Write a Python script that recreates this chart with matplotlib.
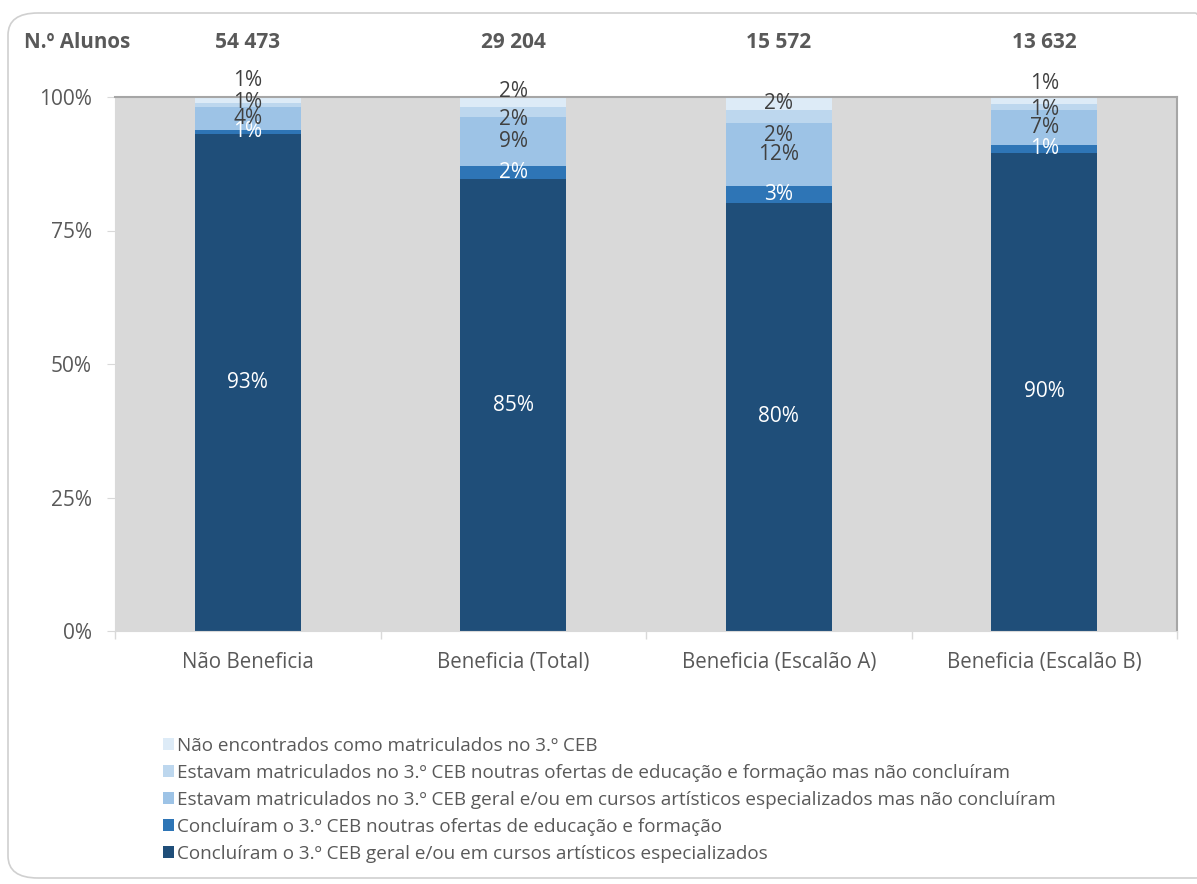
import numpy as np
import matplotlib.pyplot as plt
from matplotlib.patches import FancyBboxPatch, Patch
import matplotlib.transforms as mtransforms

plt.rcParams['font.family'] = ['Open Sans', 'DejaVu Sans']

categories = ['Não Beneficia', 'Beneficia (Total)', 'Beneficia (Escalão A)', 'Beneficia (Escalão B)']
n_alunos = ['54 473', '29 204', '15 572', '13 632']

# percentages per segment, bottom to top
concl_geral = [93.1, 84.6, 80.2, 89.6]
concl_outras = [0.8, 2.4, 3.1, 1.4]
matric_geral = [4.2, 9.3, 11.9, 6.6]
matric_outras = [0.8, 1.8, 2.4, 1.0]
nao_encontrados = [1.1, 1.9, 2.4, 1.4]

series_names = [
    'Concluíram o 3.º CEB geral e/ou em cursos artísticos especializados',
    'Concluíram o 3.º CEB noutras ofertas de educação e formação',
    'Estavam matriculados no 3.º CEB geral e/ou em cursos artísticos especializados mas não concluíram',
    'Estavam matriculados no 3.º CEB noutras ofertas de educação e formação mas não concluíram',
    'Não encontrados como matriculados no 3.º CEB',
]
series = [concl_geral, concl_outras, matric_geral, matric_outras, nao_encontrados]
colors = ['#1F4E79', '#2E75B6', '#9DC3E6', '#BDD7EE', '#DDEBF7']
label_colors = ['white', 'white', '#404040', '#404040', '#404040']
# manual nudges of labels (in % units), as in the original chart
nudges = [
    [0, 0, 0, 0],
    [0, 0, 0, 0],
    [0, 0, 0, 0],
    [0.4, -1.5, -3.7, -0.4],
    [3.6, 2.0, 0, 3.2],
]

W, H = 1197, 884
fig = plt.figure(figsize=(W / 100, H / 100), dpi=100)

# rounded outer frame
frame = FancyBboxPatch((8 / W, 6 / H), (W + 20) / W, (H - 19) / H,
                       boxstyle='round,pad=0,rounding_size=0.025',
                       transform=fig.transFigure, facecolor='none',
                       edgecolor='#D0D0D0', linewidth=1.2, zorder=-5)
fig.patches.append(frame)

left, right, top, bottom = 115, 1177, 97, 631
ax = fig.add_axes([left / W, 1 - bottom / H, (right - left) / W, (bottom - top) / H])
ax.set_facecolor('#D9D9D9')

x = np.arange(len(categories))
base = np.zeros(len(categories))
for vals, col, lc, nd in zip(series, colors, label_colors, nudges):
    vals = np.array(vals)
    ax.bar(x, vals, width=0.4, bottom=base, color=col, edgecolor='none', zorder=2)
    for i in range(len(x)):
        ax.text(x[i], base[i] + vals[i] / 2 + nd[i], f'{int(vals[i] + 0.5)}%',
                ha='center', va='center', color=lc, fontsize=15, zorder=3, clip_on=False)
    base += vals

ax.set_xlim(-0.5, 3.5)
ax.set_ylim(0, 100)
ax.set_yticks([0, 25, 50, 75, 100])
ax.set_yticklabels(['0%', '25%', '50%', '75%', '100%'])
ax.set_xticks(x)
ax.set_xticklabels(categories)
ax.set_xticks([-0.5, 0.5, 1.5, 2.5, 3.5], minor=True)
ax.tick_params(axis='x', which='major', length=0, pad=15, labelsize=14.8, labelcolor='#595959')
ax.tick_params(axis='x', which='minor', length=6, color='#D9D9D9', width=1)
ax.tick_params(axis='y', length=5.8, color='#D9D9D9', pad=11, labelsize=15, labelcolor='#595959')
for side in ['left', 'bottom']:
    ax.spines[side].set_color('#D9D9D9')
for side in ['top', 'right']:
    ax.spines[side].set_color('#A6A6A6')
    ax.spines[side].set_linewidth(1.5)

# header row with number of students
trans = mtransforms.blended_transform_factory(ax.transData, fig.transFigure)
hy = 1 - 42 / H
fig.text(77 / W, hy, 'N.º Alunos', ha='center', va='center', fontsize=14.8,
         fontweight='bold', color='#595959')
for i, n in enumerate(n_alunos):
    ax.text(x[i], hy, n, transform=trans, ha='center', va='center', fontsize=15,
            fontweight='bold', color='#595959')

handles = [Patch(facecolor=c, edgecolor='none') for c in colors]
fig.legend(handles[::-1], series_names[::-1], loc='upper left',
           bbox_to_anchor=(163 / W, 1 - 737 / H), frameon=False, fontsize=13.6,
           labelcolor='#595959', handlelength=0.6, handleheight=0.6,
           handletextpad=0.15, labelspacing=0.47, borderaxespad=0, borderpad=0)

fig.savefig('out.png', dpi=100)
